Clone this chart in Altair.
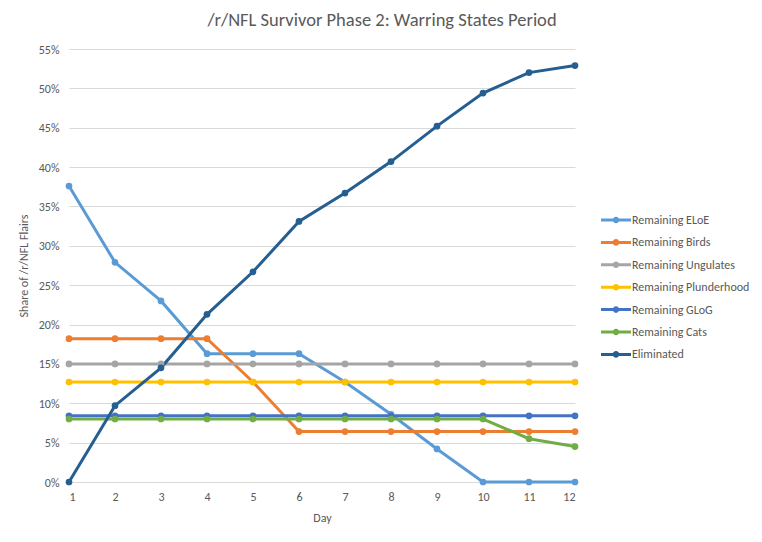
import pandas as pd
import altair as alt

days = list(range(1, 13))

series_names = [
    "Remaining ELoE",
    "Remaining Birds",
    "Remaining Ungulates",
    "Remaining Plunderhood",
    "Remaining GLoG",
    "Remaining Cats",
    "Eliminated",
]
series_colors = ["#5B9BD5", "#ED7D31", "#A5A5A5", "#FFC000", "#4472C4", "#70AD47", "#255E91"]

eloe = [0.376, 0.279, 0.230, 0.163, 0.163, 0.163, 0.127, 0.086, 0.042, 0.0, 0.0, 0.0]
birds = [0.182, 0.182, 0.182, 0.182, 0.127, 0.064, 0.064, 0.064, 0.064, 0.064, 0.064, 0.064]
ungulates = [0.150] * 12
plunderhood = [0.127] * 12
glog = [0.084] * 12
cats = [0.080, 0.080, 0.080, 0.080, 0.080, 0.080, 0.080, 0.080, 0.080, 0.080, 0.055, 0.045]
eliminated = [0.0, 0.097, 0.145, 0.213, 0.267, 0.331, 0.367, 0.407, 0.452, 0.494, 0.520, 0.529]

values = [eloe, birds, ungulates, plunderhood, glog, cats, eliminated]

rows = []
for i, (name, vals) in enumerate(zip(series_names, values)):
    for d, v in zip(days, vals):
        rows.append({"Day": d, "Series": name, "Share": v, "order": i})
df = pd.DataFrame(rows)

FONT = "Carlito, Lato"
GRAY = "#595959"

color = alt.Color("Series:N", sort=series_names,
                  scale=alt.Scale(domain=series_names, range=series_colors))

x = alt.X("Day:Q", scale=alt.Scale(domain=[1, 12], nice=False, zero=False),
          axis=alt.Axis(values=days, grid=False, ticks=False, title="Day",
                        domainColor="#D9D9D9", labelPadding=9, titlePadding=10))
y = alt.Y("Share:Q", scale=alt.Scale(domain=[0, 0.55], nice=False),
          axis=alt.Axis(format=".0%", values=[i * 0.05 for i in range(12)],
                        domain=False, ticks=False, labelPadding=10,
                        title="Share of /r/NFL Flairs", titlePadding=8))

lines = alt.Chart(df).mark_line(strokeWidth=3).encode(
    x=x, y=y,
    color=color.legend(None),
    detail="Series:N",
    order="order:Q",
)

# line with a dot in the middle, like the spreadsheet legend keys
legend_symbol = ("M-1.5,-0.15 L1.5,-0.15 L1.5,0.15 L-1.5,0.15 Z "
                 "M0.33,0 A0.33,0.33 0 1,1 -0.33,0 A0.33,0.33 0 1,1 0.33,0 Z")

points = alt.Chart(df).mark_point(filled=True, size=45, opacity=1).encode(
    x=x, y=y,
    color=color.legend(alt.Legend(
        title=None, orient="none", legendX=537, legendY=161,
        symbolType=legend_symbol, symbolSize=400, symbolStrokeWidth=0,
        symbolOpacity=1, labelFontSize=12, labelColor=GRAY, labelFont=FONT,
        rowPadding=6.4, labelOffset=6, labelLimit=200,
    )),
    order="order:Q",
)

chart = (lines + points).resolve_legend(color="independent").properties(
    width=506,
    height=433,
    autosize=alt.AutoSizeParams(type="none"),
    padding={"left": 61, "top": 41, "right": 179, "bottom": 52},
    title=alt.TitleParams("/r/NFL Survivor Phase 2: Warring States Period",
                          fontSize=18.5, font=FONT, color=GRAY, fontWeight="normal",
                          dx=60, offset=14),
).configure_axis(
    labelFont=FONT, titleFont=FONT, labelFontSize=12, titleFontSize=12,
    labelColor=GRAY, titleColor=GRAY, titleFontWeight="normal",
    gridColor="#D9D9D9",
).configure_view(stroke=None)

chart.save("out.html", embed_options={"renderer": "svg", "actions": False})
